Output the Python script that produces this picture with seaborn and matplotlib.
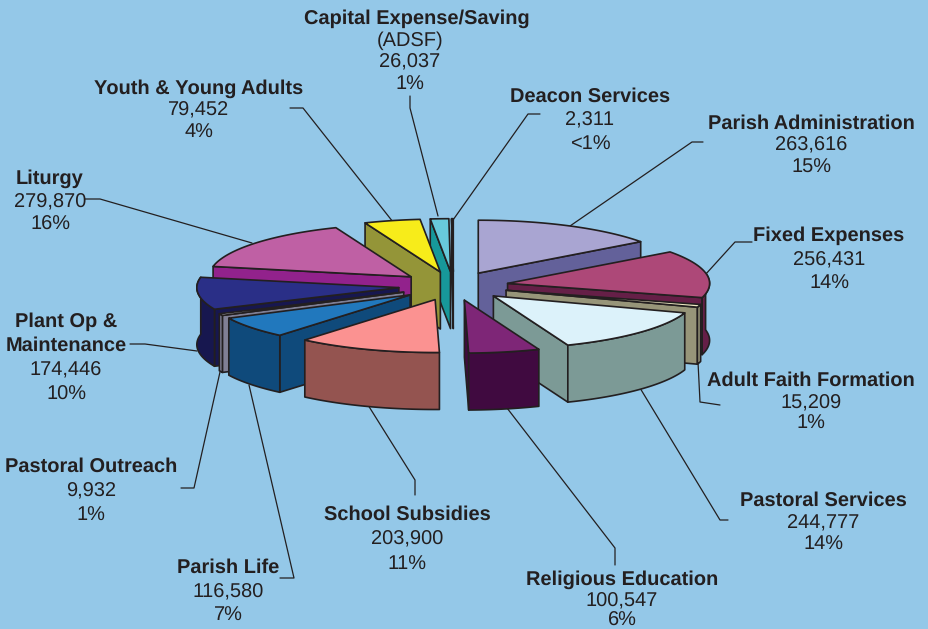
import numpy as np
import matplotlib
matplotlib.use('Agg')
import matplotlib.pyplot as plt
import seaborn as sns

names = ['Parish Administration', 'Fixed Expenses', 'Adult Faith Formation', 'Pastoral Services',
         'Religious Education', 'School Subsidies', 'Parish Life', 'Pastoral Outreach',
         'Plant Op &\nMaintenance', 'Liturgy', 'Youth & Young Adults',
         'Capital Expense/Saving', 'Deacon Services']
values = [263616, 256431, 15209, 244777, 100547, 203900, 116580, 9932, 174446, 279870, 79452, 26037, 2311]
percents = ['15%', '14%', '1%', '14%', '6%', '11%', '7%', '1%', '10%', '16%', '4%', '1%', '<1%']

top_colors = ['#A9A5D2', '#AD4878', '#EFE9C4', '#DCF2FA', '#7E2677', '#FB9291', '#2178BD', '#D2D2DC',
              '#2A2F87', '#BF60A4', '#F7EC1A', '#68CADB', '#FFFFFF']
side_colors = ['#63619A', '#651F47', '#979579', '#7C9A96', '#400A40', '#945450', '#0F4A7B', '#7F7F95',
               '#17174F', '#92228C', '#949538', '#17989A', '#9A9A9A']

sns.set_theme(style='white')
plt.rcParams['font.family'] = ['Liberation Sans', 'DejaVu Sans']
plt.rcParams['text.hinting'] = 'no_hinting'
plt.rcParams['text.hinting_factor'] = 1
bg = '#94C8E8'
ink = '#231F20'

# pie geometry in pixels
cx, cy = 453.5, 286
R = 202
tilt = 0.262
explode = 55
depth = 57

# label centre x, then y of each line
label_pos = [(811, [124, 145, 168]), (829, [236, 260, 284]), (811, [381, 403, 424]),
             (823, [501, 523, 545]), (622, [580, 601, 621]), (407, [515, 539, 565]),
             (228, [568, 592, 616]), (91, [467, 491, 516]), (66, [322, 346, 370, 395]),
             (50, [179, 202, 225]), (199, [89, 110, 133]), (417, [19, 62, 85]), (590, [97, 120, 145])]

leaders = [[(703, 142), (692, 142), (570, 226)],
           [(752, 242), (735, 242), (705, 275)],
           [(698, 362), (700, 402), (720, 405)],
           [(728, 520), (720, 520), (640, 388)],
           [(615, 565), (615, 548), (507, 408)],
           [(415, 495), (415, 480), (368, 405)],
           [(280, 578), (294, 578), (249, 385)],
           [(181, 488), (194, 488), (220, 372)],
           [(130, 344), (145, 344), (197, 351)],
           [(85, 199), (100, 199), (252, 243)],
           [(290, 108), (303, 108), (393, 222)],
           [(410, 96), (410, 108), (438, 216)],
           [(540, 114), (528, 114), (453, 220)]]

fig = plt.figure(figsize=(9.29, 6.29), dpi=100, facecolor=bg)
ax = fig.add_axes([0, 0, 1, 1])
ax.set_xlim(0, 929)
ax.set_ylim(629, 0)
ax.axis('off')


def project(a, r, mid):
    # a, r polar on the pie plane, clockwise from the back
    gx = r * np.sin(a) + explode * np.sin(mid)
    gy = r * np.cos(a) + explode * np.cos(mid)
    return cx + gx, cy - tilt * gy


def poly(xs, ys, color, z):
    ax.fill(xs, ys, facecolor=color, edgecolor=ink, linewidth=1.2, joinstyle='round', zorder=z)


shares = np.array(values) / np.sum(values) * 2 * np.pi
ends = np.cumsum(shares)
starts = ends - shares
mids = (starts + ends) / 2

z = 2
for i in np.argsort(-np.cos(mids)):
    a0, a1, mid = starts[i], ends[i], mids[i]
    ax0, ay0 = project(0, 0, mid)
    # radial faces that look at the viewer
    for a, show in [(a0, np.sin(a0) < 0), (a1, np.sin(a1) > 0)]:
        if show:
            x1, y1 = project(a, R, mid)
            poly([ax0, x1, x1, ax0], [ay0, y1, y1 + depth, ay0 + depth], side_colors[i], z)
            z += 1
    # outer rim, near part only
    arc = np.linspace(a0, a1, 80)
    arc = arc[np.cos(arc) < 0.2]
    if len(arc) > 1:
        x1, y1 = project(arc, R, mid)
        poly(np.r_[x1, x1[::-1]], np.r_[y1, (y1 + depth)[::-1]], side_colors[i], z)
        z += 1
    # top face
    arc = np.linspace(a0, a1, 80)
    x1, y1 = project(arc, R, mid)
    poly(np.r_[ax0, x1], np.r_[ay0, y1], top_colors[i], z)
    z += 1

for pts in leaders:
    xs, ys = zip(*pts)
    ax.plot(xs, ys, color=ink, linewidth=0.9, zorder=1)

fs = 14.5
for i, name in enumerate(names):
    x, ys = label_pos[i]
    title_lines = name.split('\n')
    for line, y in zip(title_lines, ys):
        ax.text(x, y, line, ha='center', va='center', fontsize=fs, fontweight='bold', color=ink)
    rest = ys[len(title_lines):]
    vx = 410 if name.startswith('Capital') else x
    ax.text(vx, rest[0], f'{values[i]:,}', ha='center', va='center', fontsize=fs, color=ink)
    ax.text(vx, rest[1], percents[i], ha='center', va='center', fontsize=fs, color=ink)
ax.text(410, 41, '(ADSF)', ha='center', va='center', fontsize=fs, color=ink)

fig.savefig('out.png', dpi=100, facecolor=bg)
